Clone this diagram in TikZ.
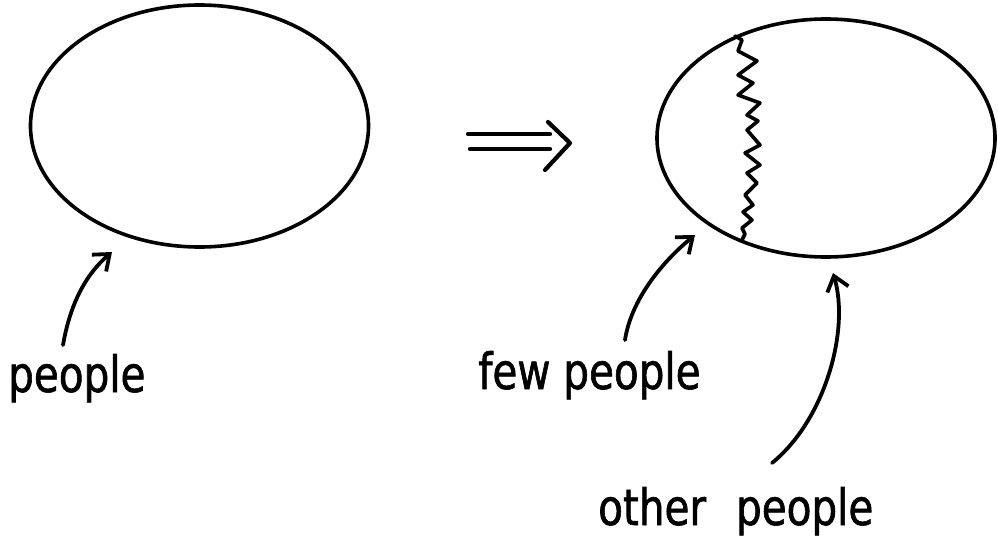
\documentclass[tikz,border=0pt]{standalone}
\usepackage{fontspec}
\newfontfamily\hand[FakeStretch=0.81,FakeBold=1.2]{DejaVu Sans}
\usetikzlibrary{arrows.meta,shapes.geometric}
\tikzset{
  ink/.style={line width=3.8pt, line cap=round, line join=round},
  blob/.style={ellipse, draw, line width=3.6pt, inner sep=0pt},
  pointer/.style={ink, -{Straight Barb[length=14pt,width=22pt,line width=3.8pt]}},
  label/.style={anchor=base west, inner sep=0pt, font=\hand\fontsize{50pt}{60pt}\selectfont}
}
\begin{document}
\begin{tikzpicture}[x=1pt,y=-1pt]
\useasboundingbox (0,0) rectangle (998,538);
% ellipses
\node[blob, minimum width=338pt, minimum height=242pt] (left) at (199.5,126) {};
\node[blob, minimum width=338pt, minimum height=238pt] (right) at (826,138) {};
% zigzag division
\draw[ink, line width=3.6pt] (735,36) -- (742,40) -- (738,51) -- (757,61) -- (738,75) -- (753,83) -- (738,95) -- (760,103) -- (747,115) -- (758,121) -- (747,130) -- (760,145) -- (745,153) -- (760,165) -- (747,173) -- (757,183) -- (745,195) -- (753,205) -- (743,212) -- (752,220) -- (742,228) -- (745,234) -- (742,240);
% implication arrow
\draw[ink, line width=4.2pt] (468,134) -- (550,134);
\draw[ink, line width=4.2pt] (470,149) -- (550,149);
\draw[ink, line width=4.2pt] (548,122) -- (570,143) -- (545,170);
% labels
\node[label] (p1) at (8,392) {people};
\node[label] (p2) at (478,389) {few people};
\node[label] (p3) at (598,525) {other\hspace{30pt}people};
% pointer arrows
\coordinate (t1) at (63,345);
\coordinate (h1) at (112,252);
\coordinate (t2) at (625,340);
\coordinate (h2) at (695,235);
\coordinate (t3) at (772,463);
\coordinate (h3) at (833,273);
\draw[pointer] (t1) .. controls (70,305) and (85,275) .. (h1);
\draw[pointer] (t2) .. controls (631,300) and (662,262) .. (h2);
\draw[pointer] (t3) .. controls (825,420) and (850,330) .. (h3);
\end{tikzpicture}
\end{document}
